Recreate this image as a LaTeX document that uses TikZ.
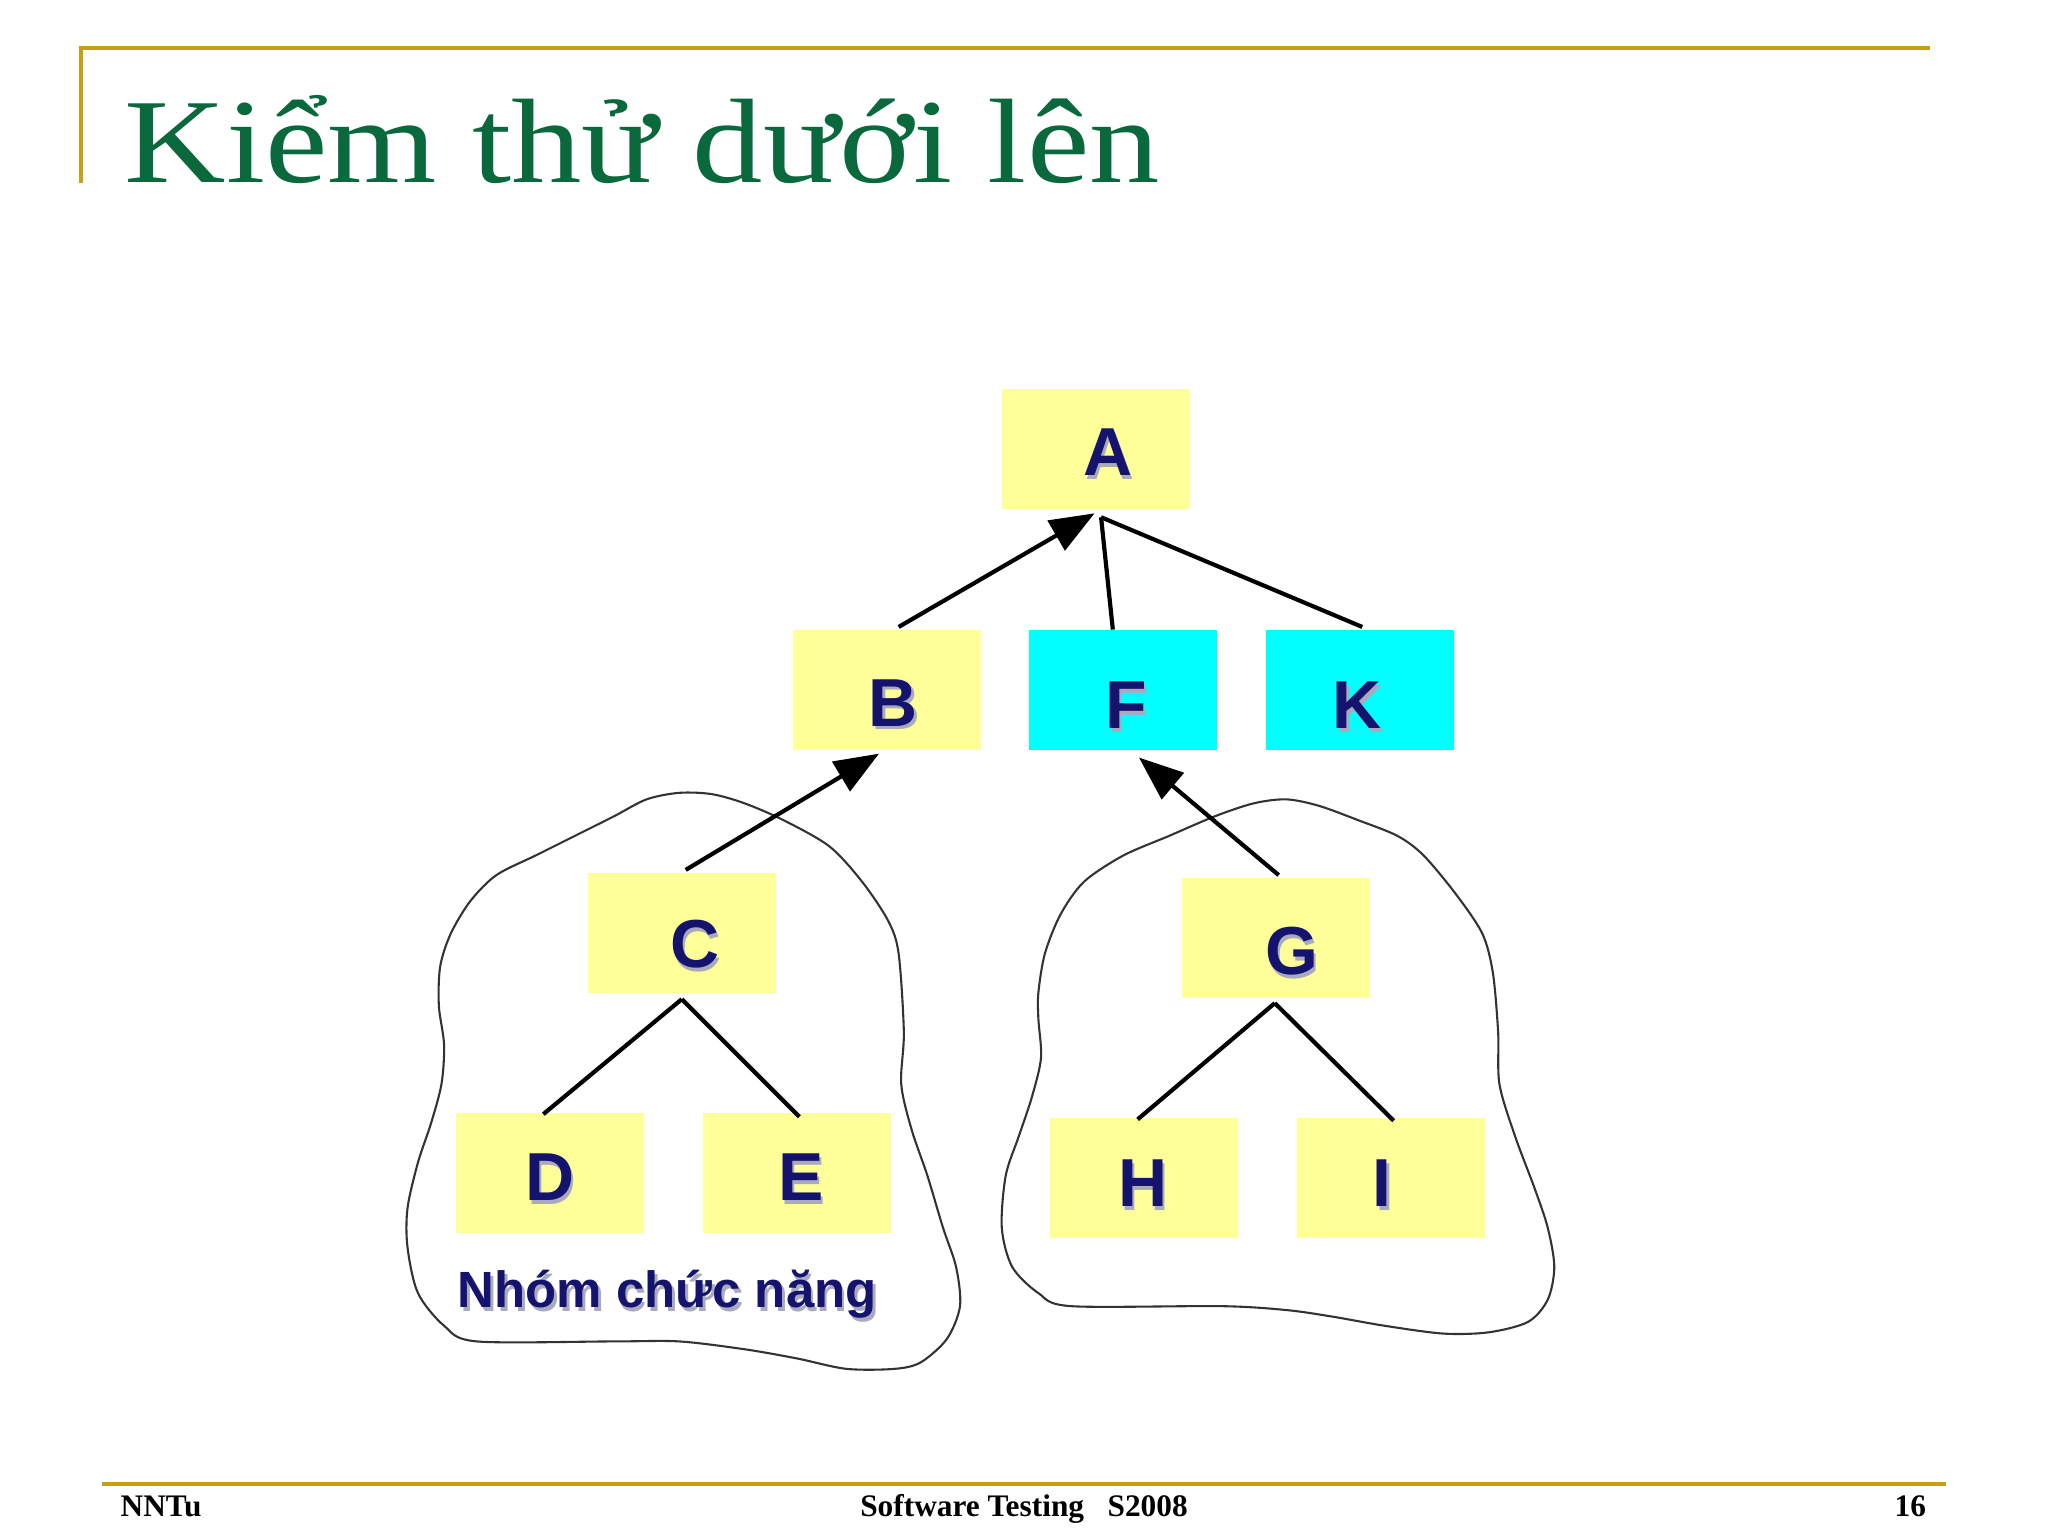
\documentclass[tikz,border=0pt]{standalone}
\usepackage{fontspec}
\setmainfont{Liberation Serif}
\setsansfont{Liberation Sans}
\newfontfamily\titlefont[FakeStretch=1.17]{Liberation Serif}
\usetikzlibrary{arrows.meta}
\definecolor{ttl}{RGB}{10,105,60}
\definecolor{gold}{RGB}{200,160,20}
\definecolor{byel}{RGB}{255,255,153}
\definecolor{bcyan}{RGB}{0,255,255}
\definecolor{navy}{RGB}{20,20,110}
\definecolor{shd}{RGB}{170,170,190}
\tikzset{
 box/.style={fill=#1,draw=none,minimum width=72pt,minimum height=46pt,inner sep=0pt},
 lbl/.style={font=\sffamily\bfseries\fontsize{26}{30}\selectfont,text=navy},
 lblsh/.style={font=\sffamily\bfseries\fontsize{26}{30}\selectfont,text=shd},
 conn/.style={line width=1.6pt},
 arr/.style={conn,-{Triangle[length=17pt,width=13pt]}},
 blob/.style={line width=0.8pt,black!80}
}
\begin{document}
\begin{tikzpicture}[x=0.5pt,y=-0.5pt]
\useasboundingbox (0,0) rectangle (1568,1175);
\fill[white] (0,0) rectangle (1568,1175);
% frame
\draw[gold,line width=1.5pt] (62,140) -- (62,37) -- (1478,37);
\draw[gold,line width=1.5pt] (78,1136) -- (1490,1136);
\node[anchor=base west,text=ttl,font=\titlefont\fontsize{46}{50}\selectfont,inner sep=0] (title) at (95,140) {Kiểm thử dưới lên};
\node[anchor=base west,font=\bfseries\fontsize{12}{14}\selectfont,inner sep=0] (f1) at (92,1161) {NNTu};
\node[anchor=base,font=\bfseries\fontsize{12}{14}\selectfont,inner sep=0] (f2) at (784,1161) {Software Testing\ \ \ S2008};
\node[anchor=base east,font=\bfseries\fontsize{12}{14}\selectfont,inner sep=0] (f3) at (1475,1161) {16};
% blobs
\draw[blob] plot[smooth cycle,tension=0.5] coordinates {(520,607)(545,608)(570,615)(600,628)(635,648)(660,675)(680,705)(688,730)(692,790)(690,830)(698,865)(710,900)(722,940)(732,970)(735,1000)(725,1025)(705,1043)(685,1048)(648,1048)(610,1040)(570,1033)(520,1027)(470,1027)(365,1027)(340,1015)(320,990)(312,955)(312,925)(320,890)(330,860)(338,830)(340,800)(336,770)(337,740)(345,715)(360,690)(380,670)(410,655)(440,640)(470,625)(495,612)};
\draw[blob] plot[smooth cycle,tension=0.5] coordinates {(985,612)(1010,617)(1040,628)(1070,640)(1090,655)(1115,685)(1135,715)(1143,745)(1147,790)(1148,830)(1160,870)(1175,910)(1185,940)(1190,970)(1185,995)(1170,1012)(1140,1020)(1105,1021)(1060,1015)(1020,1008)(985,1003)(935,1000)(820,1000)(795,990)(775,970)(767,940)(770,900)(780,870)(790,840)(797,810)(795,780)(795,760)(800,730)(812,700)(830,675)(860,655)(895,640)(930,625)(960,615)};
% boxes
\foreach \n/\x/\y/\c/\dx/\dy in {A/839/344/byel/9/2,B/679/528/byel/5/10,F/860/528/bcyan/2/12,K/1041/528/bcyan/-2/12,C/522/714/byel/10/9,G/977/718/byel/12/10,D/421/898/byel/0/3,E/610/898/byel/3/3,H/876/902/byel/-1/4,I/1065/902/byel/-7/4}{
 \node[box=\c] (\n) at (\x,\y) {};
 \node[lblsh] at (\x+\dx+2,\y+\dy+3) {\n};
 \node[lbl] (t\n) at (\x+\dx,\y+\dy) {\n};
}
% connectors
\coordinate (Ab) at (838,393);
\coordinate (Ab2) at (843,396);
\coordinate (Bt) at (688,480);
\coordinate (Bb) at (673,577);
\coordinate (Ft) at (852,482);
\coordinate (Fb) at (872,580);
\coordinate (Kt) at (1043,480);
\coordinate (Ct) at (525,666);
\coordinate (Cb) at (522,765);
\coordinate (Gt) at (979,670);
\coordinate (Gb) at (976,768);
\coordinate (Dt) at (416,853);
\coordinate (Et) at (612,855);
\coordinate (Ht) at (871,857);
\coordinate (It) at (1067,858);
\draw[arr] (Bt) -- (Ab);
\draw[conn] (Ft) -- (Ab2);
\draw[conn] (Kt) -- (Ab2);
\draw[arr] (Ct) -- (Bb);
\draw[arr] (Gt) -- (Fb);
\draw[conn] (Cb) -- (Dt);
\draw[conn] (Cb) -- (Et);
\draw[conn] (Gb) -- (Ht);
\draw[conn] (Gb) -- (It);
% label
\node[anchor=west,text=shd,font=\sffamily\bfseries\fontsize{19.5}{22}\selectfont,inner sep=0] at (352,994) {Nhóm chức năng};
\node[anchor=west,text=navy,font=\sffamily\bfseries\fontsize{19.5}{22}\selectfont,inner sep=0] (grp) at (350,991) {Nhóm chức năng};
\end{tikzpicture}
\end{document}
